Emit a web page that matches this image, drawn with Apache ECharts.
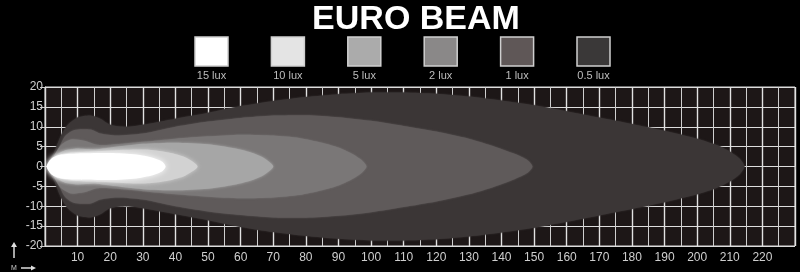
<!DOCTYPE html>
<html>
<head>
<meta charset="utf-8">
<script src="https://cdn.jsdelivr.net/npm/echarts@6/dist/echarts.min.js"></script>
<style>
  html, body { margin: 0; padding: 0; background: #000; }
  #main { width: 800px; height: 272px; }
</style>
</head>
<body>
<div id="main"></div>
<script>
// beam profiles: [distance m, half width m] for each lux level (top edge, mirrored below)
const beam05 = [[1, 0], [3, 4], [5, 8], [7, 10.5], [10, 12.3], [14, 12.8], [17, 12], [20, 10.5], [25, 10], [30, 10.5],
  [40, 12], [50, 13.5], [60, 15.2], [70, 16.5], [80, 17.5], [90, 18.2], [100, 18.6], [110, 18.6], [120, 18.3],
  [130, 17.6], [140, 16.6], [150, 15.4], [160, 13.9], [170, 12.3], [180, 10.7], [190, 9], [200, 7], [206, 5.4],
  [210, 3.8], [213, 2], [214.5, 0]];
const beam1 = [[1.5, 0], [4, 4], [6, 7.5], [9, 9.2], [14, 9.3], [17, 8.3], [22, 7.8], [30, 8.3], [40, 10], [50, 11.3],
  [60, 12.2], [70, 12.8], [80, 12.9], [90, 12.4], [100, 11.5], [110, 10.2], [120, 8.8], [130, 7], [138, 5],
  [144, 3.2], [148, 1.6], [149.5, 0]];
const beam2 = [[1.5, 0], [3, 3], [5, 5.5], [8, 6.8], [12, 6.5], [16, 5.5], [20, 5.5], [30, 6.2], [40, 7], [50, 7.6],
  [60, 8], [70, 7.8], [78, 7.2], [85, 6], [90, 4.8], [94, 3.3], [97, 1.7], [98.6, 0]];
const beam5 = [[1, 0], [3, 2.5], [6, 4], [10, 4.5], [15, 4.3], [20, 4.8], [30, 5.7], [40, 6], [50, 5.6], [58, 4.6],
  [63, 3.6], [67, 2.2], [70, 0]];
const beam10 = [[1, 0], [3, 2.5], [8, 3.5], [15, 3.8], [25, 4.2], [32, 4.2], [38, 3.5], [43, 2.3], [46.8, 0]];
const beam15 = [[0.5, 0], [2, 2], [5, 3], [10, 3.3], [20, 3.4], [28, 3], [33, 2.2], [36, 1.2], [37, 0]];

const luxNames = ['15 lux', '10 lux', '5 lux', '2 lux', '1 lux', '0.5 lux'];
const swatchColors = ['#ffffff', '#e4e4e4', '#ababab', '#8a8888', '#5f5757', '#3a3838'];

// drawn from outside in
const profiles = [beam05, beam1, beam2, beam5, beam10, beam15];
const beamColors = ['#3b3636', '#5f5a5a', '#7a7777', '#a6a6a6', '#d2d2d2', '#ffffff'];
const beamBlur = [2, 2, 2, 3, 4, 6];

const chart = echarts.init(document.getElementById('main'));

const series = profiles.map((prof, i) => ({
  type: 'custom',
  name: luxNames[5 - i],
  coordinateSystem: 'cartesian2d',
  silent: true,
  clip: true,
  data: [[prof[prof.length - 1][0], 0]],
  renderItem: (params, api) => {
    const top = prof.map(p => api.coord([p[0], p[1]]));
    const bot = prof.slice(1, -1).reverse().map(p => api.coord([p[0], -p[1]]));
    return {
      type: 'polygon',
      shape: { points: top.concat(bot), smooth: 0.25 },
      style: { fill: beamColors[i], shadowBlur: beamBlur[i], shadowColor: beamColors[i] }
    };
  }
}));

// legend squares with labels underneath
const legendItems = [];
luxNames.forEach((name, i) => {
  const left = 195 + i * 76.4;
  legendItems.push({
    type: 'rect',
    shape: { x: left, y: 37, width: 33, height: 29 },
    style: { fill: swatchColors[i], stroke: '#cfcfcf', lineWidth: 1.5 }
  });
  legendItems.push({
    type: 'text',
    x: left + 16.5, y: 76,
    style: {
      text: name, fill: '#bdbdbd', align: 'center', verticalAlign: 'middle',
      font: '11px "Liberation Sans Narrow", "Liberation Sans", sans-serif'
    }
  });
});

const option = {
  backgroundColor: '#000',
  animation: false,
  grid: {
    left: 45, right: 5, top: 87, bottom: 26,
    show: true, backgroundColor: '#1d1717', borderColor: '#dddddd', borderWidth: 1
  },
  xAxis: {
    type: 'value', min: 0, max: 230, interval: 10,
    axisLine: { show: true, lineStyle: { color: '#dddddd' } },
    axisTick: { show: true, length: 3, lineStyle: { color: '#cccccc' } },
    minorTick: { show: true, splitNumber: 2, length: 3, lineStyle: { color: '#cccccc' } },
    axisLabel: {
      color: '#cfcfcf', fontSize: 12, margin: 6,
      fontFamily: '"Liberation Sans Narrow", "Liberation Sans", sans-serif',
      formatter: v => (v > 0 && v < 230) ? String(v) : ''
    },
    splitLine: { show: true, lineStyle: { color: '#e2e2e2', width: 1.4 } },
    minorSplitLine: { show: true, lineStyle: { color: '#cfcfcf', width: 1 } }
  },
  yAxis: {
    type: 'value', min: -20, max: 20, interval: 5,
    axisLine: { show: true, lineStyle: { color: '#dddddd' } },
    axisTick: { show: true, length: 5, lineStyle: { color: '#cccccc' } },
    axisLabel: {
      color: '#cfcfcf', fontSize: 12, margin: 2,
      fontFamily: '"Liberation Sans Narrow", "Liberation Sans", sans-serif'
    },
    splitLine: { show: true, lineStyle: { color: '#dddddd', width: 1.2 } }
  },
  graphic: [
    {
      type: 'text', x: 416, y: 20,
      style: {
        text: 'EURO BEAM', fill: '#ffffff', align: 'center', verticalAlign: 'middle',
        font: 'bold 34px "Liberation Sans", Arial, sans-serif'
      }
    },
    ...legendItems,
    // little M arrows bottom left
    { type: 'line', shape: { x1: 14, y1: 258, x2: 14, y2: 246 }, style: { stroke: '#dddddd', lineWidth: 1.5 } },
    { type: 'polygon', shape: { points: [[11, 247], [17, 247], [14, 242]] }, style: { fill: '#dddddd' } },
    { type: 'line', shape: { x1: 21, y1: 268, x2: 32, y2: 268 }, style: { stroke: '#dddddd', lineWidth: 1.5 } },
    { type: 'polygon', shape: { points: [[31, 265.5], [31, 270.5], [36, 268]] }, style: { fill: '#dddddd' } },
    {
      type: 'text', x: 14, y: 268,
      style: { text: 'M', fill: '#cccccc', align: 'center', verticalAlign: 'middle', font: '7px "Liberation Sans", sans-serif' }
    }
  ],
  series: series
};
chart.setOption(option);
</script>
</body>
</html>
